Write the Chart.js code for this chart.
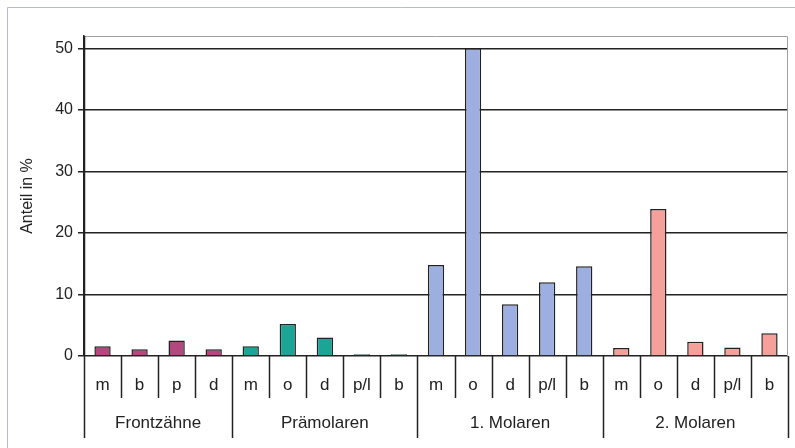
<!DOCTYPE html>
<html>
<head>
<meta charset="utf-8">
<script src="https://cdn.jsdelivr.net/npm/chart.js@4"></script>
<style>
  html, body { margin: 0; padding: 0; background: #fff; }
  #wrap { width: 795px; height: 448px; position: relative; }
</style>
</head>
<body>
<div id="wrap"><canvas id="anteilChart"></canvas></div>
<script>
// groups and their sub categories
const groups = ['Frontzähne', 'Prämolaren', '1. Molaren', '2. Molaren'];
const frontLabels = ['m', 'b', 'p', 'd'];
const praeLabels = ['m', 'o', 'd', 'p/l', 'b'];
const molar1Labels = ['m', 'o', 'd', 'p/l', 'b'];
const molar2Labels = ['m', 'o', 'd', 'p/l', 'b'];

// Anteil in %
const frontValues = [1.6, 1.1, 2.5, 1.1];
const praeValues = [1.6, 5.2, 3.0, 0.3, 0.3];
const molar1Values = [14.8, 50, 8.4, 12.0, 14.6];
const molar2Values = [1.3, 23.9, 2.3, 1.4, 3.7];

const yTicks = [0, 10, 20, 30, 40, 50];

const groupColors = ['#b5477f', '#1ba596', '#9dafe0', '#f6a09c'];

const subLabels = [frontLabels, praeLabels, molar1Labels, molar2Labels];
const subValues = [frontValues, praeValues, molar1Values, molar2Values];

const labels = subLabels.flat();
const values = subValues.flat();
const colors = subLabels.flatMap((arr, gi) => arr.map(() => groupColors[gi]));

// group boundaries as category indexes
const groupStarts = [];
let idx = 0;
subLabels.forEach(arr => { groupStarts.push(idx); idx += arr.length; });
groupStarts.push(idx);

const axisPlugin = {
    id: 'axisPlugin',
    afterDraw(chart) {
        const ctx = chart.ctx;
        const x = chart.scales.x;
        const area = chart.chartArea;
        const half = (x.getPixelForValue(1) - x.getPixelForValue(0)) / 2;
        const edge = i => x.getPixelForValue(i) - half;

        ctx.save();
        // outer frame
        ctx.strokeStyle = '#b8bcc4';
        ctx.lineWidth = 1;
        ctx.beginPath();
        ctx.moveTo(7.5, 460);
        ctx.lineTo(7.5, 7.5);
        ctx.lineTo(795, 7.5);
        ctx.stroke();

        // plot area border top/right
        ctx.strokeStyle = '#a0a0a0';
        ctx.beginPath();
        ctx.moveTo(area.left, area.top + 0.5);
        ctx.lineTo(area.right - 0.5, area.top + 0.5);
        ctx.lineTo(area.right - 0.5, area.bottom);
        ctx.stroke();

        // separators below axis
        ctx.strokeStyle = '#222';
        ctx.lineWidth = 1.5;
        for (let i = 0; i <= labels.length; i++) {
            const px = Math.round(edge(i)) + 0.5;
            const isGroup = groupStarts.includes(i);
            ctx.beginPath();
            ctx.moveTo(px, isGroup && i === 0 ? area.top : area.bottom);
            ctx.lineTo(px, isGroup ? 438 : 398);
            ctx.stroke();
        }

        // group labels
        ctx.fillStyle = '#222';
        ctx.font = '17px "Liberation Sans", Arial, sans-serif';
        ctx.textAlign = 'center';
        ctx.textBaseline = 'middle';
        groups.forEach((g, gi) => {
            const cx = (edge(groupStarts[gi]) + edge(groupStarts[gi + 1])) / 2;
            ctx.fillText(g, cx, 423);
        });
        ctx.restore();
    }
};

const chartCtx = document.getElementById('anteilChart').getContext('2d');

new Chart(chartCtx, {
    type: 'bar',
    data: {
        labels: labels,
        datasets: [{
            data: values,
            backgroundColor: colors,
            borderColor: '#222',
            borderWidth: 1.5,
            barPercentage: 0.44,
            categoryPercentage: 1.0
        }]
    },
    options: {
        responsive: true,
        maintainAspectRatio: false,
        animation: false,
        layout: { padding: { top: 36, right: 7, left: 0, bottom: 0 } },
        plugins: {
            legend: { display: false },
            tooltip: { enabled: false }
        },
        scales: {
            x: {
                offset: true,
                grid: { display: false },
                border: { display: false },
                ticks: {
                    color: '#222',
                    padding: 11,
                    maxRotation: 0,
                    autoSkip: false,
                    font: { family: '"Liberation Sans", Arial, sans-serif', size: 17 }
                },
                afterFit: scale => { scale.height = 92; }
            },
            y: {
                min: 0,
                max: 52,
                afterBuildTicks: scale => {
                    scale.ticks = yTicks.map(v => ({ value: v }));
                },
                grid: {
                    color: '#222',
                    lineWidth: 1.5,
                    tickLength: 6,
                    drawTicks: true
                },
                border: { display: true, color: '#222', width: 1.5 },
                ticks: {
                    color: '#222',
                    padding: 5,
                    font: { family: '"Liberation Sans", Arial, sans-serif', size: 16 }
                },
                title: {
                    display: true,
                    text: 'Anteil in %',
                    color: '#222',
                    padding: { top: 18, bottom: 0 },
                    font: { family: '"Liberation Sans", Arial, sans-serif', size: 16 }
                },
                afterFit: scale => { scale.width = 84; }
            }
        }
    },
    plugins: [axisPlugin]
});
</script>
</body>
</html>
